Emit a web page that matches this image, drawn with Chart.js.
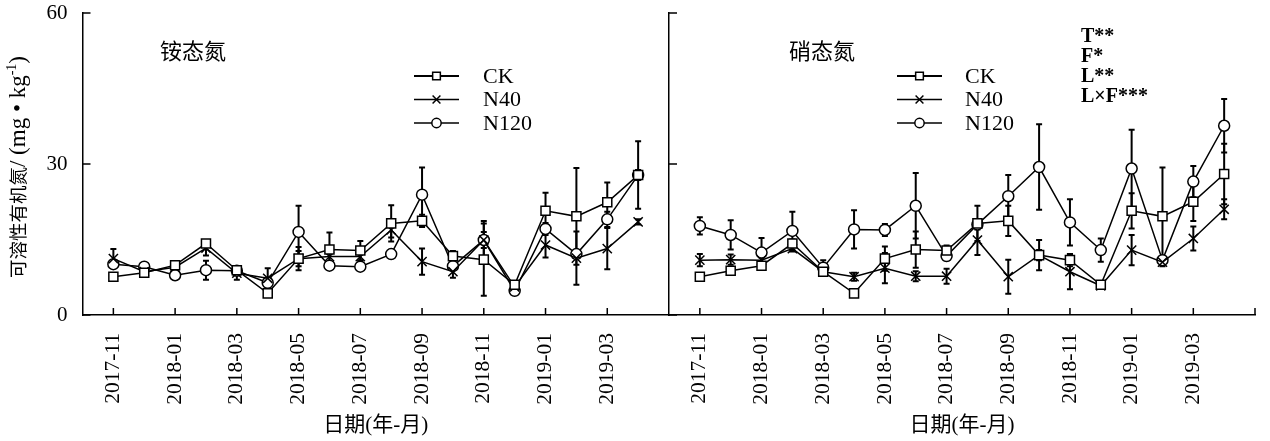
<!DOCTYPE html>
<html>
<head>
<meta charset="utf-8">
<script src="https://cdn.jsdelivr.net/npm/chart.js@4/dist/chart.umd.min.js"></script>
<style>
    html, body { margin: 0; padding: 0; background: #fff; }
    #wrap { position: relative; width: 1270px; height: 441px; }
    #wrap canvas { position: absolute; left: 0; top: 0; }
</style>
</head>
<body>
<div id="wrap">
    <canvas id="nh4" width="1270" height="441"></canvas>
    <canvas id="no3" width="1270" height="441"></canvas>
</div>
<script>
// Months sampled (one point per month)
const months = ['2017-11', '2017-12', '2018-01', '2018-02', '2018-03', '2018-04', '2018-05', '2018-06', '2018-07',
    '2018-08', '2018-09', '2018-10', '2018-11', '2018-12', '2019-01', '2019-02', '2019-03', '2019-04'];
const tickLabels = ['2017-11', '2018-01', '2018-03', '2018-05', '2018-07', '2018-09', '2018-11', '2019-01', '2019-03'];
const yTicks = [0, 30, 60];
const seriesNames = ['CK', 'N40', 'N120'];

// 铵态氮 panel
const nh4CK = [7.6, 8.4, 9.9, 14.2, 8.9, 4.3, 11.2, 13.0, 12.8, 18.2, 18.7, 11.7, 11.0, 6.0, 20.7, 19.6, 22.4, 27.8];
const nh4CKsd = [0.6, 0.5, 0.6, 0.6, 0.6, 0.6, 1.5, 3.4, 1.9, 3.6, 1.2, 1.0, 7.2, 0.5, 3.6, 9.6, 3.9, 6.7];
const nh4N40 = [11.2, 8.6, 9.5, 13.3, 8.3, 7.3, 11.2, 11.6, 11.6, 16.9, 10.6, 8.6, 14.9, 5.6, 13.9, 11.3, 13.2, 18.5];
const nh4N40sd = [1.9, 0.6, 0.8, 1.5, 1.3, 2.0, 2.3, 1.2, 0.8, 1.5, 2.6, 1.2, 1.6, 0.5, 2.5, 5.3, 4.1, 0.5];
const nh4N120 = [10.1, 9.6, 7.9, 8.9, 8.8, 6.4, 16.5, 9.8, 9.6, 12.1, 23.9, 9.7, 14.9, 4.8, 17.1, 12.1, 19.0, 27.8];
const nh4N120sd = [0.6, 0.5, 0.6, 1.9, 0.6, 0.7, 5.2, 0.6, 0.6, 0.5, 5.4, 0.5, 3.8, 0.5, 1.2, 0.8, 1.5, 1.0];

// 硝态氮 panel
const no3CK = [7.6, 8.8, 9.8, 14.2, 8.6, 4.3, 11.2, 13.0, 12.8, 18.2, 18.7, 11.9, 10.9, 6.0, 20.7, 19.6, 22.5, 28.0];
const no3CKsd = [0.4, 0.4, 0.4, 0.8, 0.5, 0.4, 2.4, 3.6, 1.0, 3.5, 3.0, 3.0, 1.2, 0.4, 3.5, 9.7, 3.8, 6.0];
const no3N40 = [10.9, 11.0, 10.9, 13.2, 8.6, 7.6, 9.3, 7.7, 7.7, 14.9, 7.6, 11.9, 8.6, 5.8, 12.9, 10.5, 15.2, 21.0];
const no3N40sd = [1.2, 1.0, 0.5, 0.6, 0.5, 0.8, 3.0, 1.0, 1.5, 3.0, 3.4, 1.0, 3.5, 0.4, 3.0, 0.8, 2.4, 2.0];
const no3N120 = [17.7, 15.9, 12.4, 16.7, 9.4, 17.0, 16.9, 21.7, 11.7, 18.0, 23.6, 29.4, 18.4, 12.9, 29.1, 10.9, 26.5, 37.6];
const no3N120sd = [1.7, 2.9, 2.9, 3.8, 1.5, 3.8, 1.2, 6.5, 0.8, 1.0, 4.2, 8.5, 4.6, 2.3, 7.7, 0.5, 3.1, 5.3];

const statNotes = ['T**', 'F*', 'L**', 'L×F***'];

const SERIF = "'Liberation Serif', 'Times New Roman', serif";
const CJK = "'Liberation Serif', 'Noto Sans CJK SC', serif";

// y title pieces: CJK part smaller, unit part in serif with a superscript
const yTitleParts = [
    { text: '可溶性有机氮', font: '18.5px ' + CJK, rise: 0 },
    { text: '/ (mg • kg', font: '23px ' + SERIF, rise: 0 },
    { text: '-1', font: '14px ' + SERIF, rise: -9 },
    { text: ')', font: '23px ' + SERIF, rise: 0 }
];

// draw a marker in the same style as the line points
function drawMarker(ctx, style, r, x, y) {
    ctx.beginPath();
    if (style === 'rect') {
        const s = r * Math.SQRT1_2;
        ctx.rect(x - s, y - s, 2 * s, 2 * s);
        ctx.fill();
        ctx.stroke();
    } else if (style === 'circle') {
        ctx.arc(x, y, r, 0, Math.PI * 2);
        ctx.fill();
        ctx.stroke();
    } else {
        const s = r * Math.SQRT1_2;
        ctx.moveTo(x - s, y - s); ctx.lineTo(x + s, y + s);
        ctx.moveTo(x - s, y + s); ctx.lineTo(x + s, y - s);
        ctx.stroke();
    }
}

// vertical error bars, drawn under the markers
const errorBars = {
    id: 'errorBars',
    beforeDatasetsDraw(chart) {
        const { ctx, scales: { x, y } } = chart;
        ctx.save();
        ctx.strokeStyle = '#000';
        ctx.lineWidth = 2;
        chart.data.datasets.forEach(ds => {
            ds.data.forEach((p, i) => {
                const px = x.getPixelForValue(p.x);
                const top = y.getPixelForValue(p.y + ds.sd[i]);
                const bot = y.getPixelForValue(p.y - ds.sd[i]);
                ctx.beginPath();
                ctx.moveTo(px, top); ctx.lineTo(px, bot);
                ctx.moveTo(px - 3, top); ctx.lineTo(px + 3, top);
                ctx.moveTo(px - 3, bot); ctx.lineTo(px + 3, bot);
                ctx.stroke();
            });
        });
        ctx.restore();
    }
};

// tick marks pointing into the plot
const innerTicks = {
    id: 'innerTicks',
    afterDraw(chart, args, opts) {
        const { ctx, chartArea, scales: { x, y } } = chart;
        ctx.save();
        ctx.strokeStyle = '#000';
        ctx.lineWidth = 1.5;
        ctx.beginPath();
        const xs = x.ticks.map(t => t.value);
        if (opts.endTick) xs.push(x.max);
        xs.forEach(v => {
            const px = x.getPixelForValue(v);
            ctx.moveTo(px, chartArea.bottom);
            ctx.lineTo(px, chartArea.bottom - 7);
        });
        y.ticks.forEach(t => {
            const py = y.getPixelForValue(t.value);
            ctx.moveTo(chartArea.left, py);
            ctx.lineTo(chartArea.left + 8, py);
        });
        ctx.stroke();
        ctx.restore();
    }
};

// legend with line + marker samples, plus panel notes
const lineLegend = {
    id: 'lineLegend',
    afterDraw(chart, args, o) {
        const { ctx } = chart;
        ctx.save();
        chart.data.datasets.forEach((ds, i) => {
            const yy = o.y + i * o.dy;
            ctx.strokeStyle = '#000';
            ctx.lineWidth = i === 0 ? 2 : 1.5;
            ctx.beginPath();
            ctx.moveTo(o.x0, yy);
            ctx.lineTo(o.x1, yy);
            ctx.stroke();
            ctx.fillStyle = '#fff';
            ctx.lineWidth = ds.pointBorderWidth;
            drawMarker(ctx, ds.pointStyle, ds.pointRadius * 0.85, (o.x0 + o.x1) / 2, yy);
            ctx.fillStyle = '#000';
            ctx.font = '22px ' + SERIF;
            ctx.textAlign = 'left';
            ctx.textBaseline = 'middle';
            ctx.fillText(ds.label, o.tx, yy + 1);
        });
        ctx.fillStyle = '#000';
        ctx.font = '22px ' + CJK;
        ctx.textAlign = 'center';
        ctx.textBaseline = 'middle';
        ctx.fillText(o.title, o.titleX, 53);
        if (o.notes) {
            ctx.font = 'bold 20px ' + SERIF;
            ctx.textAlign = 'left';
            o.notes.forEach((n, k) => ctx.fillText(n, 1081, 37 + k * 20));
        }
        if (o.yTitle) {
            // rotated axis title
            const area = chart.chartArea;
            ctx.textAlign = 'left';
            ctx.textBaseline = 'alphabetic';
            let total = 0;
            yTitleParts.forEach(p => { ctx.font = p.font; total += ctx.measureText(p.text).width; });
            ctx.translate(25, (area.top + area.bottom) / 2 + 3);
            ctx.rotate(-Math.PI / 2);
            let pos = -total / 2;
            yTitleParts.forEach(p => {
                ctx.font = p.font;
                ctx.fillText(p.text, pos, p.rise);
                pos += ctx.measureText(p.text).width;
            });
        }
        ctx.restore();
    }
};

function makeDatasets(ck, cksd, n40, n40sd, n120, n120sd) {
    const styles = ['rect', 'crossRot', 'circle'];
    const radii = [6.4, 6.5, 5.5];
    return [[ck, cksd], [n40, n40sd], [n120, n120sd]].map(([vals, sd], k) => ({
        label: seriesNames[k],
        data: vals.map((v, i) => ({ x: i, y: v })),
        sd: sd,
        borderColor: '#000',
        borderWidth: 1.5,
        pointStyle: styles[k],
        pointRadius: radii[k],
        pointBorderWidth: 1.5,
        pointBackgroundColor: '#fff',
        pointBorderColor: '#000',
        tension: 0
    }));
}

function makeChart(id, datasets, left, legendOpts) {
    return new Chart(document.getElementById(id), {
        type: 'line',
        data: { datasets: datasets },
        plugins: [errorBars, innerTicks, lineLegend],
        options: {
            responsive: false,
            animation: false,
            devicePixelRatio: 1,
            events: [],
            layout: { padding: { left: left ? 0 : 669, right: left ? 601 : 15, top: 13, bottom: 0 } },
            plugins: {
                legend: { display: false },
                tooltip: { enabled: false },
                innerTicks: { endTick: !left },
                lineLegend: legendOpts
            },
            scales: {
                x: {
                    type: 'linear',
                    min: -1,
                    max: months.length,
                    afterBuildTicks: s => { s.ticks = tickLabels.map(l => ({ value: months.indexOf(l) })); },
                    afterFit: s => { s.height = 126; s.paddingLeft = 0; s.paddingRight = 0; },
                    grid: { display: false, drawTicks: false },
                    border: { display: true, color: '#000', width: 1.5 },
                    ticks: {
                        autoSkip: false,
                        minRotation: 90,
                        maxRotation: 90,
                        padding: 18,
                        color: '#000',
                        font: { family: SERIF, size: 21.5 },
                        callback: v => months[v]
                    },
                    title: {
                        display: true,
                        text: '日期(年-月)',
                        color: '#000',
                        font: { family: CJK, size: 21 },
                        padding: { top: 0, bottom: 3 }
                    }
                },
                y: {
                    min: 0,
                    max: 60,
                    afterBuildTicks: s => { s.ticks = yTicks.map(v => ({ value: v })); },
                    afterFit: s => { s.width = left ? 82.5 : 0; s.paddingTop = 0; s.paddingBottom = 0; },
                    grid: { display: false, drawTicks: false },
                    border: { display: true, color: '#000', width: 1.5 },
                    ticks: {
                        display: left,
                        padding: 15,
                        color: '#000',
                        font: { family: SERIF, size: 21 }
                    },
                    title: { display: false }
                }
            }
        }
    });
}

makeChart('nh4', makeDatasets(nh4CK, nh4CKsd, nh4N40, nh4N40sd, nh4N120, nh4N120sd), true,
    { x0: 414, x1: 459, tx: 483, y: 76, dy: 23.5, title: '铵态氮', titleX: 193, yTitle: true });
makeChart('no3', makeDatasets(no3CK, no3CKsd, no3N40, no3N40sd, no3N120, no3N120sd), false,
    { x0: 897, x1: 942, tx: 965, y: 76, dy: 23.5, title: '硝态氮', titleX: 822, notes: statNotes });
</script>
</body>
</html>
